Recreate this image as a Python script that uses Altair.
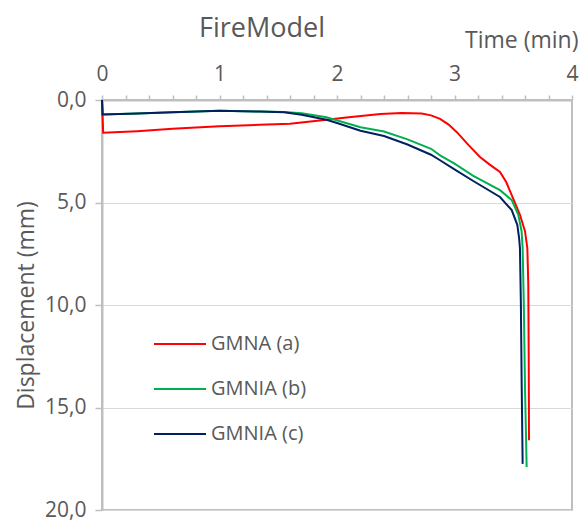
import altair as alt
import pandas as pd

# GMNA (a)
t_a = [0, 0.01, 0.3, 0.6, 1.0, 1.34, 1.6, 1.91, 2.1, 2.37, 2.55, 2.72, 2.8, 2.877, 2.95, 3.02,
       3.12, 3.217, 3.3, 3.387, 3.44, 3.487, 3.557, 3.6, 3.62, 3.628, 3.632, 3.634]
d_a = [0, 1.6, 1.52, 1.4, 1.28, 1.21, 1.16, 0.96, 0.84, 0.68, 0.63, 0.66, 0.75, 0.92, 1.2, 1.57,
       2.2, 2.78, 3.15, 3.51, 4.0, 4.64, 5.6, 6.4, 7.23, 9.0, 13.0, 16.6]

# GMNIA (b)
t_b = [0, 0.005, 0.3, 0.6, 1.0, 1.34, 1.55, 1.7, 1.91, 2.2, 2.4, 2.6, 2.8, 2.877, 3.0, 3.16,
       3.387, 3.487, 3.543, 3.571, 3.58, 3.59, 3.6, 3.614]
d_b = [0, 0.71, 0.66, 0.6, 0.53, 0.56, 0.58, 0.65, 0.84, 1.33, 1.54, 1.92, 2.38, 2.7, 3.1, 3.7,
       4.4, 4.88, 5.6, 6.4, 7.23, 10.0, 14.0, 17.9]

# GMNIA (c)
t_c = [0, 0.005, 0.3, 0.6, 1.0, 1.34, 1.55, 1.7, 1.91, 2.0, 2.2, 2.4, 2.6, 2.8, 2.877, 3.0,
       3.16, 3.387, 3.487, 3.535, 3.55, 3.557, 3.565, 3.572, 3.58]
d_c = [0, 0.71, 0.66, 0.6, 0.53, 0.56, 0.6, 0.72, 0.96, 1.12, 1.5, 1.76, 2.17, 2.67, 2.94, 3.38,
       3.95, 4.73, 5.37, 6.1, 6.75, 7.23, 10.0, 14.0, 17.75]

series_names = ["GMNA (a)", "GMNIA (b)", "GMNIA (c)"]
series_colors = ["#FF0000", "#00B050", "#002060"]
x_ticks = [round(i * 0.2, 1) for i in range(21)]
y_ticks = [0, 5, 10, 15, 20]

rows = []
for name, ts, ds in zip(series_names, [t_a, t_b, t_c], [d_a, d_b, d_c]):
    for i, (t, d) in enumerate(zip(ts, ds)):
        rows.append({"series": name, "t": t, "d": d, "order": i})
df = pd.DataFrame(rows)

FONT = "Open Sans"
GREY = "#595959"

chart = alt.Chart(df).mark_line(strokeWidth=2).encode(
    x=alt.X("t:Q",
            scale=alt.Scale(domain=[0, 4], nice=False, zero=False),
            axis=alt.Axis(orient="top", values=x_ticks, grid=False, labelFlush=False,
                          labelExpr="datum.value % 1 == 0 ? format(datum.value, 'd') : ''",
                          tickSize=5, labelPadding=15, labelBaseline="alphabetic",
                          labelFontSize=21, labelColor=GREY, labelFont=FONT,
                          title="Time (min)", titleFont=FONT, titleFontSize=23,
                          titleFontWeight="normal", titleColor=GREY,
                          titleAlign="right", titleAnchor="end", titleBaseline="alphabetic",
                          titleX=476, titleY=-53)),
    y=alt.Y("d:Q",
            scale=alt.Scale(domain=[0, 20], reverse=True, nice=False),
            axis=alt.Axis(values=y_ticks, labelFlush=False,
                          labelExpr="replace(format(datum.value, '.1f'), '.', ',')",
                          tickSize=7, labelPadding=9,
                          labelFontSize=21, labelColor=GREY, labelFont=FONT,
                          title="Displacement (mm)", titleFont=FONT, titleFontSize=23,
                          titleFontWeight="normal", titleColor=GREY,
                          titleAngle=270, titleAlign="center", titleBaseline="middle",
                          titleX=-76, titleY=205)),
    color=alt.Color("series:N",
                    scale=alt.Scale(domain=series_names, range=series_colors),
                    legend=alt.Legend(title=None, orient="none", legendX=51, legendY=217,
                                      symbolType="stroke", symbolSize=2704, symbolStrokeWidth=2,
                                      labelFontSize=20, labelColor=GREY, labelFont=FONT,
                                      rowPadding=8, labelOffset=4)),
    order="order:Q",
).properties(
    width=470, height=410,
    title=alt.TitleParams("FireModel", anchor="middle", dx=-75, fontSize=27, font=FONT,
                          fontWeight="normal", color=GREY, offset=-14),
    autosize=alt.AutoSizeParams(type="none"),
    padding={"left": 94, "top": 92, "right": 7, "bottom": 12},
).configure_view(
    stroke="#bfbfbf", strokeWidth=2
).configure_axis(
    domainColor="#bfbfbf", domainWidth=2, tickColor="#bfbfbf", tickWidth=1.5,
    gridColor="#d9d9d9", gridWidth=1
)

chart.save("out.html", embed_options={"renderer": "svg", "actions": False})
